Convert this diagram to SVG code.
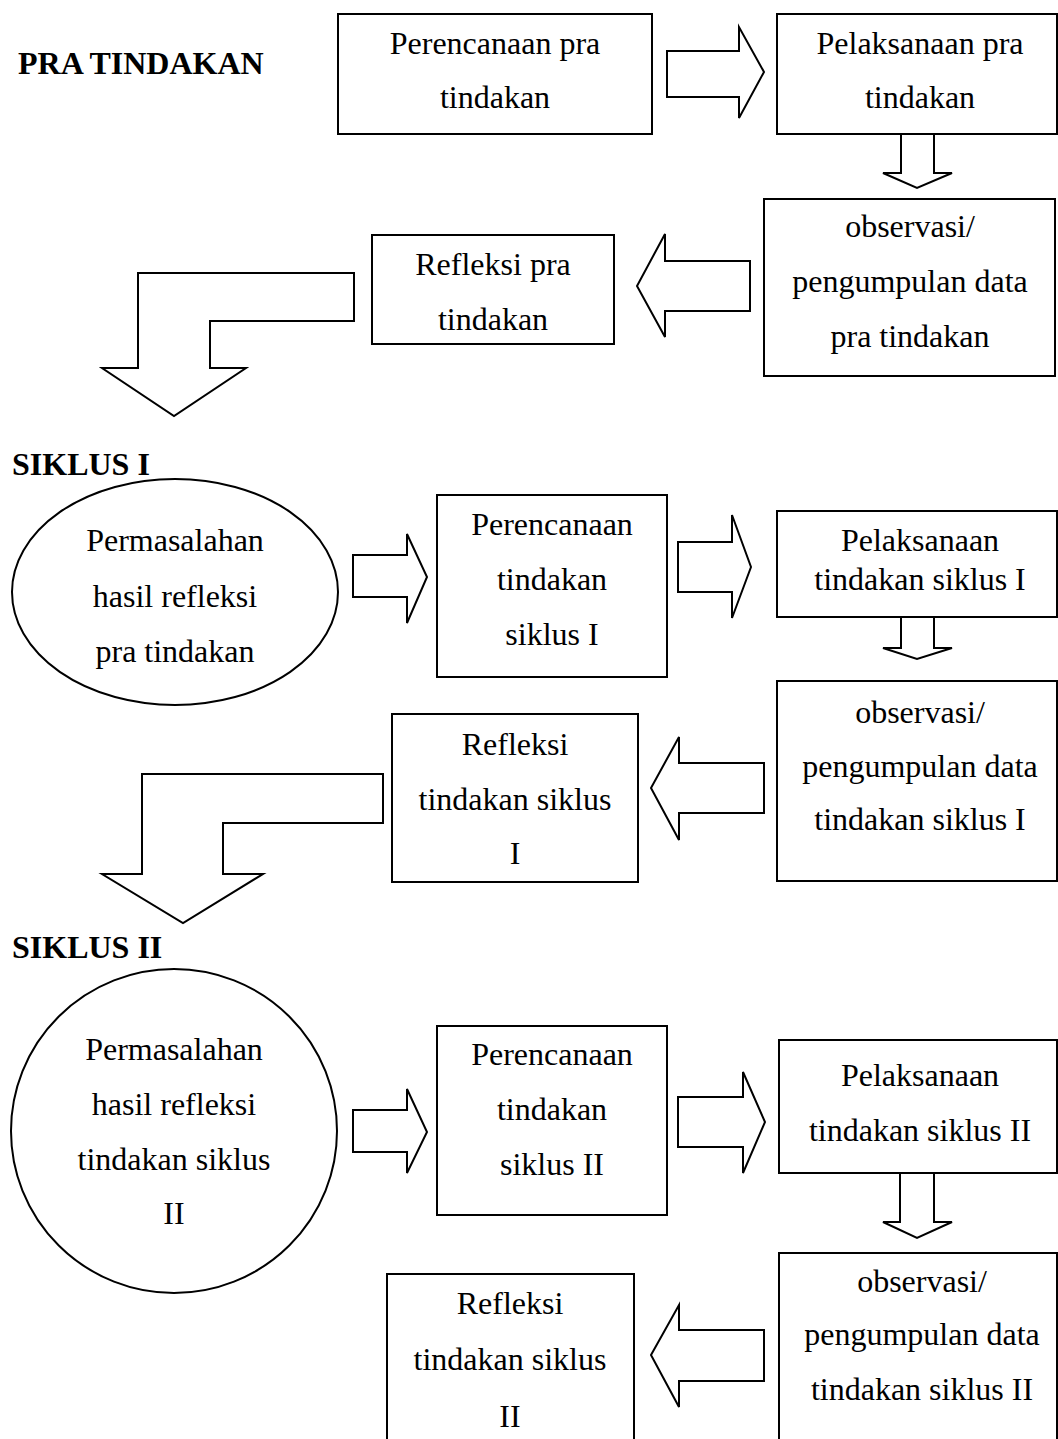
<svg xmlns="http://www.w3.org/2000/svg" width="1058" height="1439" viewBox="0 0 1058 1439">
<style>
.box{fill:#fff;stroke:#000;stroke-width:2}
.arr{fill:#fff;stroke:#000;stroke-width:2;stroke-linejoin:miter}
text{font-family:"Liberation Serif","Times New Roman",serif;font-size:32px;fill:#000}
.c{text-anchor:middle}
.h{font-weight:bold}
</style>
<rect width="1058" height="1439" fill="#fff"/>
<g id="labels">
<text class="h" x="18" y="74">PRA TINDAKAN</text>
<text class="h" x="12" y="475">SIKLUS I</text>
<text class="h" x="12" y="958">SIKLUS II</text>
</g>
<g id="connectors">
<polygon class="arr" points="667,51 739,51 739,27 764,72 739,118 739,97 667,97"/>
<polygon class="arr" points="901,134 934,134 934,173 952,173 917,188 883,173 901,173"/>
<polygon class="arr" points="750,261 665,261 665,234 637,286 665,337 665,311 750,311"/>
<polygon class="arr" points="354,273 138,273 138,368 102,368 174,416 246,368 210,368 210,321 354,321"/>
<polygon class="arr" points="353,555 407,555 407,534 427,577 407,623 407,597 353,597"/>
<polygon class="arr" points="678,542 732,542 732,515 751,567 732,618 732,592 678,592"/>
<polygon class="arr" points="901,617 934,617 934,648 952,648 917,659 883,648 901,648"/>
<polygon class="arr" points="764,763 679,763 679,737 651,788 679,840 679,813 764,813"/>
<polygon class="arr" points="383,774 142,774 142,874 102,874 183,923 263,874 223,874 223,823 383,823"/>
<polygon class="arr" points="353,1110 407,1110 407,1089 427,1132 407,1173 407,1152 353,1152"/>
<polygon class="arr" points="678,1097 743,1097 743,1072 765,1122 743,1173 743,1147 678,1147"/>
<polygon class="arr" points="900,1173 934,1173 934,1222 952,1222 917,1238 883,1222 900,1222"/>
<polygon class="arr" points="764,1330 679,1330 679,1305 651,1355 679,1407 679,1381 764,1381"/>
</g>
<g id="n1"><rect class="box" x="338" y="14" width="314" height="120"/>
<text class="c" x="495" y="54">Perencanaan pra</text><text class="c" x="495" y="108">tindakan</text></g>
<g id="n2"><rect class="box" x="777" y="14" width="280" height="120"/>
<text class="c" x="920" y="54">Pelaksanaan pra</text><text class="c" x="920" y="108">tindakan</text></g>
<g id="n3"><rect class="box" x="764" y="199" width="291" height="177"/>
<text class="c" x="910" y="237">observasi/</text><text class="c" x="910" y="292">pengumpulan data</text><text class="c" x="910" y="347">pra tindakan</text></g>
<g id="n4"><rect class="box" x="372" y="235" width="242" height="109"/>
<text class="c" x="493" y="275">Refleksi pra</text><text class="c" x="493" y="330">tindakan</text></g>
<g id="n5"><ellipse class="box" cx="175" cy="592" rx="163" ry="113"/>
<text class="c" x="175" y="551">Permasalahan</text><text class="c" x="175" y="607">hasil refleksi</text><text class="c" x="175" y="662">pra tindakan</text></g>
<g id="n6"><rect class="box" x="437" y="495" width="230" height="182"/>
<text class="c" x="552" y="535">Perencanaan</text><text class="c" x="552" y="590">tindakan</text><text class="c" x="552" y="645">siklus I</text></g>
<g id="n7"><rect class="box" x="777" y="511" width="280" height="106"/>
<text class="c" x="920" y="551">Pelaksanaan</text><text class="c" x="920" y="590">tindakan siklus I</text></g>
<g id="n8"><rect class="box" x="777" y="681" width="280" height="200"/>
<text class="c" x="920" y="723">observasi/</text><text class="c" x="920" y="777">pengumpulan data</text><text class="c" x="920" y="830">tindakan siklus I</text></g>
<g id="n9"><rect class="box" x="392" y="714" width="246" height="168"/>
<text class="c" x="515" y="755">Refleksi</text><text class="c" x="515" y="810">tindakan siklus</text><text class="c" x="515" y="864">I</text></g>
<g id="n10"><ellipse class="box" cx="174" cy="1131" rx="163" ry="162"/>
<text class="c" x="174" y="1060">Permasalahan</text><text class="c" x="174" y="1115">hasil refleksi</text><text class="c" x="174" y="1170">tindakan siklus</text><text class="c" x="174" y="1224">II</text></g>
<g id="n11"><rect class="box" x="437" y="1026" width="230" height="189"/>
<text class="c" x="552" y="1065">Perencanaan</text><text class="c" x="552" y="1120">tindakan</text><text class="c" x="552" y="1175">siklus II</text></g>
<g id="n12"><rect class="box" x="779" y="1040" width="278" height="133"/>
<text class="c" x="920" y="1086">Pelaksanaan</text><text class="c" x="920" y="1141">tindakan siklus II</text></g>
<g id="n13"><rect class="box" x="779" y="1253" width="278" height="200"/>
<text class="c" x="922" y="1292">observasi/</text><text class="c" x="922" y="1345">pengumpulan data</text><text class="c" x="922" y="1400">tindakan siklus II</text></g>
<g id="n14"><rect class="box" x="387" y="1274" width="247" height="180"/>
<text class="c" x="510" y="1314">Refleksi</text><text class="c" x="510" y="1370">tindakan siklus</text><text class="c" x="510" y="1427">II</text></g>
</svg>
